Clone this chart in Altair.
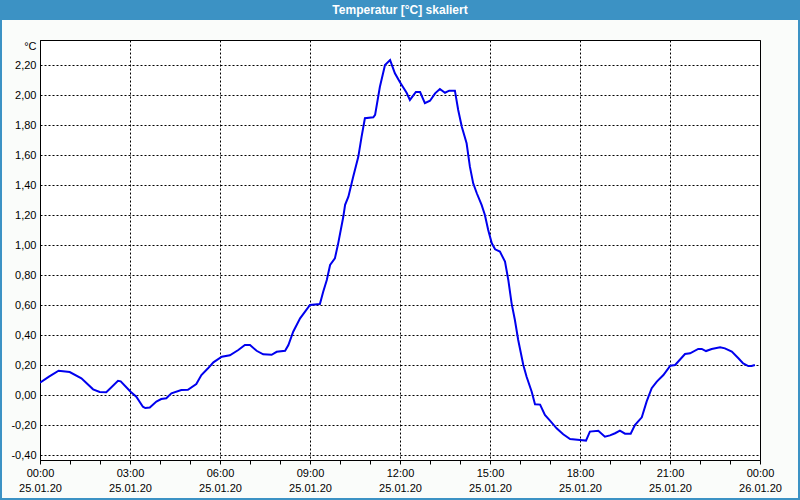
import altair as alt
import pandas as pd

# Time (hours after 25.01.20 00:00) and temperature readings [°C]
hours = [0.0, 0.3, 0.62, 0.99, 1.38, 1.77, 1.99, 2.21, 2.6, 2.69, 3.02, 3.21, 3.43, 3.51, 3.66,
         3.88, 4.04, 4.21, 4.38, 4.71, 4.93, 5.21, 5.38, 5.6, 5.78, 6.06, 6.33, 6.61, 6.83, 7.0,
         7.22, 7.44, 7.72, 7.89, 8.17, 8.28, 8.44, 8.67, 9.0, 9.33, 9.44, 9.56, 9.67, 9.83, 9.94,
         10.11, 10.17, 10.28, 10.44, 10.61, 10.72, 10.83, 11.11, 11.17, 11.33, 11.5, 11.67, 11.83,
         12.0, 12.22, 12.33, 12.53, 12.67, 12.83, 13.0, 13.17, 13.33, 13.5, 13.64, 13.83, 13.94,
         14.06, 14.22, 14.33, 14.44, 14.56, 14.72, 14.83, 14.94, 15.06, 15.17, 15.33, 15.5, 15.61,
         15.72, 15.83, 15.94, 16.11, 16.22, 16.39, 16.5, 16.67, 16.83, 17.0, 17.22, 17.44, 17.67,
         18.0, 18.2, 18.33, 18.61, 18.83, 19.0, 19.17, 19.33, 19.5, 19.69, 19.83, 20.06, 20.22,
         20.39, 20.56, 20.78, 21.01, 21.17, 21.5, 21.67, 21.94, 22.06, 22.2, 22.39, 22.67, 22.83,
         23.06, 23.28, 23.44, 23.61, 23.72, 23.83]
temps = [0.084, 0.124, 0.164, 0.155, 0.113, 0.04, 0.022, 0.02, 0.097, 0.093, 0.024, -0.009, -0.076,
         -0.085, -0.082, -0.042, -0.025, -0.02, 0.013, 0.035, 0.037, 0.075, 0.135, 0.18, 0.22, 0.257,
         0.267, 0.302, 0.335, 0.335, 0.297, 0.273, 0.27, 0.29, 0.297, 0.335, 0.424, 0.513, 0.602,
         0.609, 0.69, 0.769, 0.869, 0.913, 1.013, 1.19, 1.27, 1.324, 1.457, 1.59, 1.724, 1.847, 1.853,
         1.87, 2.057, 2.202, 2.235, 2.147, 2.087, 2.017, 1.969, 2.022, 2.022, 1.947, 1.964, 2.013,
         2.042, 2.017, 2.031, 2.031, 1.902, 1.791, 1.68, 1.524, 1.413, 1.347, 1.269, 1.202, 1.102,
         1.013, 0.973, 0.958, 0.891, 0.769, 0.613, 0.502, 0.369, 0.202, 0.124, 0.024, -0.06, -0.062,
         -0.131, -0.169, -0.22, -0.26, -0.291, -0.298, -0.302, -0.242, -0.236, -0.276, -0.267,
         -0.253, -0.236, -0.256, -0.256, -0.198, -0.147, -0.042, 0.047, 0.091, 0.135, 0.197, 0.202,
         0.275, 0.28, 0.309, 0.309, 0.295, 0.309, 0.32, 0.313, 0.291, 0.247, 0.213, 0.195, 0.195,
         0.202]

tick_hours = [0, 3, 6, 9, 12, 15, 18, 21, 24]
tick_times = ["00:00", "03:00", "06:00", "09:00", "12:00", "15:00", "18:00", "21:00", "00:00"]
tick_dates = ["25.01.20", "25.01.20", "25.01.20", "25.01.20", "25.01.20", "25.01.20",
              "25.01.20", "25.01.20", "26.01.20"]
minor_hours = [0, 1, 2, 3, 4, 5, 6, 7, 8, 9, 10, 11, 12, 13, 14, 15, 16, 17, 18, 19, 20, 21, 22, 23, 24]
y_ticks = [-0.4, -0.2, 0.0, 0.2, 0.4, 0.6, 0.8, 1.0, 1.2, 1.4, 1.6, 1.8, 2.0, 2.2]

title_text = "Temperatur [°C] skaliert"
unit_text = "°C"

FONT = "Liberation Sans"
FRAME_BLUE = "#3c92c4"

df = pd.DataFrame({"h": hours, "t": temps})
one = pd.DataFrame({"k": [0]})

x_label_expr = "".join(
    f"datum.value == {h} ? ['{t}', '{d}'] : " for h, t, d in zip(tick_hours, tick_times, tick_dates)
) + "''"
y_label_expr = "(datum.value < 0 ? '-' : '') + replace(format(abs(datum.value), '.2f'), '.', ',')"

x_axis = alt.Axis(
    values=minor_hours,
    labelExpr=x_label_expr,
    grid=True,
    gridOpacity={"condition": {"test": "datum.value % 3 == 0", "value": 1}, "value": 0},
    gridColor="black",
    gridDash=[2, 2],
    gridWidth=1,
    tickSize=4,
    tickColor="black",
    domainColor="black",
    labelFont=FONT,
    labelFontSize=11,
    labelColor="black",
    labelPadding=3,
    labelLineHeight=15,
    labelFlush=False,
    labelOverlap=False,
    labelAngle=0,
    labelAlign="center",
    labelBaseline="top",
    title=None,
)
y_axis = alt.Axis(
    values=y_ticks,
    labelExpr=y_label_expr,
    grid=True,
    gridColor="black",
    gridDash=[2, 2],
    gridWidth=1,
    ticks=False,
    labelPadding=4,
    labelFont=FONT,
    labelFontSize=11,
    labelColor="black",
    domainColor="black",
    title=unit_text,
    titleAngle=0,
    titleAlign="right",
    titleBaseline="middle",
    titleX=-4,
    titleY=6,
    titleFont=FONT,
    titleFontSize=11,
    titleFontWeight="normal",
    titleColor="black",
)

line = alt.Chart(df).mark_line(color="#0000ee", strokeWidth=2, clip=True).encode(
    x=alt.X("h:Q", scale=alt.Scale(domain=[0, 24], nice=False, zero=False), axis=x_axis),
    y=alt.Y("t:Q", scale=alt.Scale(domain=[-0.4313, 2.3687], nice=False, zero=False), axis=y_axis),
)

title_bar = alt.Chart(one).mark_rect(color=FRAME_BLUE).encode(
    x=alt.value(-40), x2=alt.value(760), y=alt.value(-40), y2=alt.value(-20)
)
title_label = alt.Chart(one).mark_text(
    color="white", font=FONT, fontSize=12, fontWeight="bold", align="center", baseline="middle"
).encode(x=alt.value(360), y=alt.value(-30), text=alt.value(title_text))
border = alt.Chart(one).mark_rect(filled=False, stroke=FRAME_BLUE, strokeWidth=2).encode(
    x=alt.value(-39), x2=alt.value(759), y=alt.value(-40), y2=alt.value(459)
)

chart = alt.layer(title_bar, border, line, title_label).properties(
    width=720,
    height=420,
    autosize=alt.AutoSizeParams(type="none"),
    padding={"left": 40, "top": 40, "right": 40, "bottom": 40},
).configure(background="#fafcfa").configure_view(stroke="black", strokeWidth=1, fill="white")

chart.save("out.html", embed_options={"renderer": "svg", "actions": False})
